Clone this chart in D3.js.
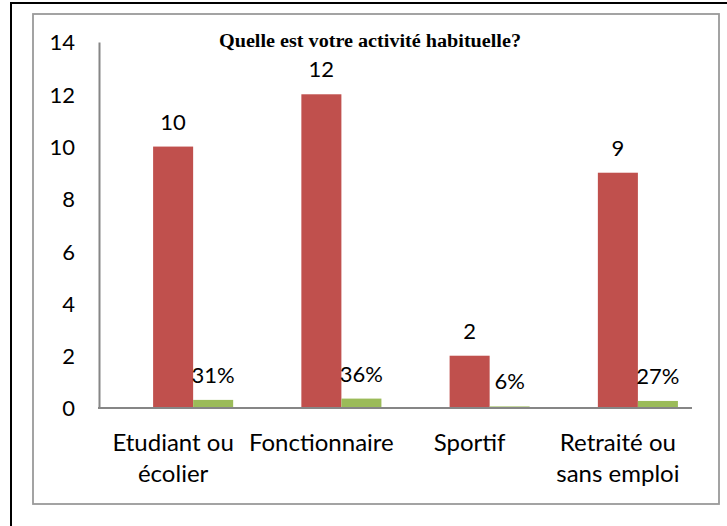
<!DOCTYPE html>
<html>
<head>
<meta charset="utf-8">
<script src="https://cdn.jsdelivr.net/npm/d3@7"></script>
<style>
  html, body { margin: 0; padding: 0; background: #fff; }
  svg { display: block; }
  text { fill: #000; }
</style>
</head>
<body>
<svg id="chart" width="727" height="526"></svg>
<script>
// Survey answers: how many respondents per activity, and their share
const categories = [["Etudiant ou", "écolier"], ["Fonctionnaire"], ["Sportif"], ["Retraité ou", "sans emploi"]];
const counts = [10, 12, 2, 9];
const shares = [0.31, 0.36, 0.06, 0.27];
const shareLabels = ["31%", "36%", "6%", "27%"];
const yTicks = [0, 2, 4, 6, 8, 10, 12, 14];
const title = "Quelle est votre activité habituelle?";

const SANS = "Lato, 'Open Sans', sans-serif";
const SERIF = "'Liberation Serif', 'Times New Roman', serif";

const svg = d3.select("#chart");
const W = 727, H = 526;
const plot = { left: 99, right: 692, top: 42, bottom: 408 };

svg.append("rect").attr("width", W).attr("height", H).attr("fill", "#fff");

// page frame (top and left edges)
svg.append("line").attr("x1", 10).attr("x2", W).attr("y1", 3).attr("y2", 3)
  .attr("stroke", "#000").attr("stroke-width", 2);
svg.append("line").attr("x1", 11).attr("x2", 11).attr("y1", 2).attr("y2", H)
  .attr("stroke", "#000").attr("stroke-width", 2);

// chart area border
svg.append("rect").attr("x", 33).attr("y", 14).attr("width", 686).attr("height", 490)
  .attr("fill", "none").attr("stroke", "#9a9a9a").attr("stroke-width", 1.8);

const keys = categories.map(c => c.join(" "));
const x = d3.scaleBand().domain(keys).range([plot.left, plot.right])
  .paddingInner(0.19).paddingOuter(0.095);
// three slots per category; the first one stays empty
const xs = d3.scaleBand().domain(["none", "count", "share"]).range([0, x.bandwidth()]);
const y = d3.scaleLinear().domain([0, 14]).range([plot.bottom, plot.top]);

// y axis
const yAxis = svg.append("g").attr("transform", `translate(${plot.left},0)`)
  .call(d3.axisLeft(y).tickValues(yTicks).tickSize(0).tickPadding(24).tickFormat(d3.format("d")));
yAxis.select(".domain").attr("stroke", "#868686").attr("stroke-width", 2);
yAxis.selectAll("text").style("font-size", "22px").style("font-family", SANS).attr("dy", "0.36em");

// bars
const rows = keys.map((k, i) => ({ k, count: counts[i], share: shares[i], label: shareLabels[i], lines: categories[i] }));

svg.append("g").selectAll("rect").data(rows).join("rect")
  .attr("x", d => x(d.k) + xs("count"))
  .attr("width", xs.bandwidth())
  .attr("y", d => y(d.count))
  .attr("height", d => y(0) - y(d.count))
  .attr("fill", "#C0504D");

svg.append("g").selectAll("rect").data(rows).join("rect")
  .attr("x", d => x(d.k) + xs("share"))
  .attr("width", xs.bandwidth())
  .attr("y", d => y(d.share))
  .attr("height", d => y(0) - y(d.share))
  .attr("fill", "#9BBB59");

// x axis line
svg.append("line").attr("x1", plot.left - 1).attr("x2", plot.right)
  .attr("y1", plot.bottom).attr("y2", plot.bottom)
  .attr("stroke", "#868686").attr("stroke-width", 2);

// value labels
svg.append("g").selectAll("text").data(rows).join("text")
  .attr("x", d => x(d.k) + xs("count") + xs.bandwidth() / 2)
  .attr("y", d => y(d.count) - 17)
  .attr("text-anchor", "middle")
  .style("font-size", "22px").style("font-family", SANS)
  .text(d => d.count);

svg.append("g").selectAll("text").data(rows).join("text")
  .attr("x", d => x(d.k) + xs("share") + xs.bandwidth() / 2)
  .attr("y", d => y(d.share) - 17)
  .attr("text-anchor", "middle")
  .style("font-size", "22px").style("font-family", SANS)
  .text(d => d.label);

// category labels
const cat = svg.append("g").selectAll("text").data(rows).join("text")
  .attr("text-anchor", "middle")
  .style("font-size", "24px").style("font-family", SANS)
  .attr("x", d => x(d.k) + x.bandwidth() / 2)
  .attr("y", 451);
cat.selectAll("tspan").data(d => d.lines.map(t => ({ t, x: x(d.k) + x.bandwidth() / 2 }))).join("tspan")
  .attr("x", t => t.x)
  .attr("dy", (t, i) => i === 0 ? 0 : 31)
  .text(t => t.t);

// title
svg.append("text").attr("x", 370).attr("y", 47)
  .attr("text-anchor", "middle")
  .attr("textLength", 302).attr("lengthAdjust", "spacingAndGlyphs")
  .style("font-family", SERIF)
  .style("font-weight", "bold").style("font-size", "18px")
  .text(title);
</script>
</body>
</html>
